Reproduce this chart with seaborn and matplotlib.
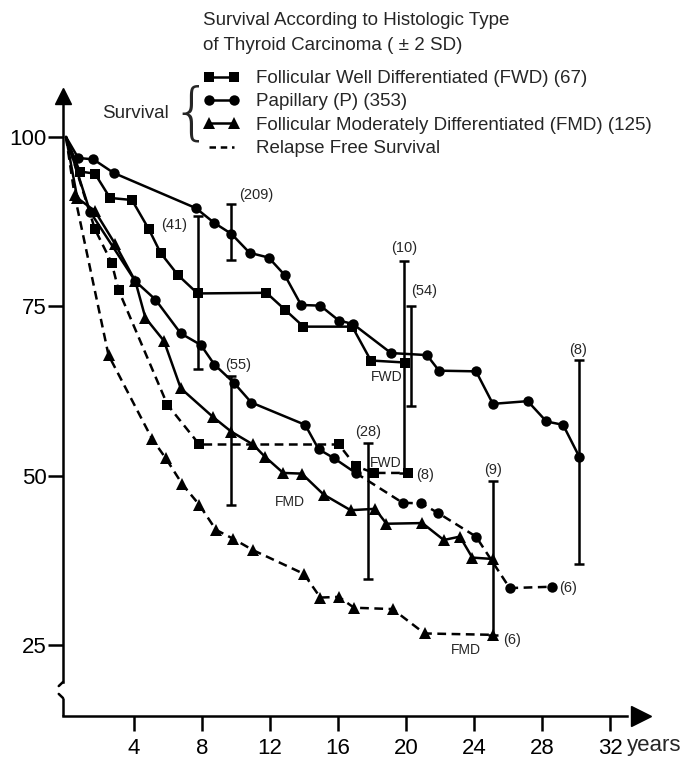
import matplotlib
matplotlib.use("Agg")
import matplotlib.pyplot as plt
import seaborn as sns
from matplotlib.lines import Line2D

# overall survival, years vs % alive
fwd_t = [0, 0.81, 1.70, 2.59, 3.88, 4.87, 5.56, 6.59, 7.74, 11.79, 12.88, 13.97, 16.84, 17.93, 19.96]
fwd_s = [100, 94.9, 94.6, 91.0, 90.7, 86.4, 82.9, 79.6, 76.9, 77.0, 74.5, 72.0, 72.0, 67.0, 66.7]

pap_t = [0, 0.72, 1.61, 2.80, 7.64, 8.73, 9.73, 10.8, 11.92, 12.87, 13.83, 14.96, 16.05, 16.88,
         19.12, 21.23, 21.94, 24.12, 25.11, 27.16, 28.26, 29.24, 30.19]
pap_s = [100, 96.9, 96.7, 94.7, 89.5, 87.3, 85.7, 82.9, 82.2, 79.6, 75.2, 75.1, 72.9, 72.4,
         68.1, 67.8, 65.5, 65.4, 60.6, 61.0, 58.0, 57.5, 52.8]

fmd_t = [0, 0.66, 1.69, 2.89, 4.08, 4.67, 5.76, 6.75, 8.63, 9.72, 11.0, 11.7, 12.78, 13.87,
         15.16, 16.74, 18.18, 18.85, 20.96, 22.22, 23.17, 23.9, 25.09]
fmd_s = [100, 91.0, 89.1, 84.2, 78.7, 73.3, 69.9, 62.9, 58.7, 56.5, 54.6, 52.8, 50.4, 50.3,
         47.2, 44.9, 45.1, 42.9, 43.0, 40.5, 41.0, 37.9, 37.7]

# relapse free survival
fwd_rfs_t = [0, 1.70, 2.69, 3.09, 5.96, 7.84, 16.05, 17.04, 18.12, 20.1]
fwd_rfs_s = [100, 86.4, 81.4, 77.4, 60.5, 54.6, 54.6, 51.4, 50.4, 50.4]

pap_rfs_t = [0, 1.41, 4.08, 5.26, 6.75, 7.93, 8.73, 9.88, 10.9, 14.07, 14.86, 15.75, 17.04,
             19.8, 20.9, 21.88, 24.12, 26.1, 28.6]
pap_rfs_s = [100, 89.0, 78.7, 76.0, 71.0, 69.3, 66.4, 63.7, 60.8, 57.5, 53.9, 52.6, 50.4,
             46.0, 45.9, 44.5, 41.0, 33.4, 33.6]
pap_rfs_solid_until = 17.04   # drawn solid up to here, dashed after

fmd_rfs_t = [0, 0.5, 2.5, 5.07, 5.86, 6.85, 7.84, 8.82, 9.82, 11.0, 13.99, 14.96, 16.05, 16.94,
             19.21, 21.09, 25.09]
fmd_rfs_s = [100, 91.5, 67.8, 55.4, 52.6, 48.7, 45.7, 42.0, 40.7, 39.0, 35.5, 32.0, 32.1, 30.5,
             30.3, 26.7, 26.5]

# +/- 2 SD bars with number at risk
pap_bar_t = [9.73, 20.3, 30.19]
pap_bar_s = [86.0, 67.7, 52.0]
pap_bar_sd = [4.1, 7.4, 15.1]
fwd_bar_t = [7.74, 19.9]
fwd_bar_s = [77.1, 66.05]
fwd_bar_sd = [11.3, 15.6]
fmd_bar_t = [9.72, 17.79, 25.09]
fmd_bar_s = [55.2, 44.8, 37.85]
fmd_bar_sd = [9.5, 10.0, 11.35]

x_ticks = [4, 8, 12, 16, 20, 24, 28, 32]
y_ticks = [25, 50, 75, 100]

W, H = 683, 758
sns.set_style("white")
plt.rcParams['font.family'] = ['Liberation Sans', 'DejaVu Sans']

fig = plt.figure(figsize=(W / 100, H / 100), dpi=100)
ax = fig.add_axes([63 / W, 1 - 716 / H, (660 - 63) / W, (716 - 80) / H])
x0 = -3 / 17
ax.set_xlim(x0, 594 / 17)
ax.set_ylim(100 - (716 - 137) / 6.773, 100 + 57 / 6.773)

lw = 1.8
dash = (0, (3.5, 2.2))
ms_sq, ms_ci, ms_tr = 7.5, 7.5, 9


def curve(t, s, marker, ms, ls='-'):
    sns.lineplot(x=t, y=s, ax=ax, color='black', marker=marker, markersize=ms,
                 markeredgewidth=0, linewidth=lw, linestyle=ls, estimator=None,
                 sort=False, markevery=list(range(1, len(t))), clip_on=False)


curve(fwd_t, fwd_s, 's', ms_sq)
curve(pap_t, pap_s, 'o', ms_ci)
curve(fmd_t, fmd_s, '^', ms_tr)
curve(fwd_rfs_t, fwd_rfs_s, 's', ms_sq, dash)
curve(fmd_rfs_t, fmd_rfs_s, '^', ms_tr, dash)

k = pap_rfs_t.index(pap_rfs_solid_until)
curve(pap_rfs_t[:k + 1], pap_rfs_s[:k + 1], 'o', ms_ci)
sns.lineplot(x=pap_rfs_t[k:], y=pap_rfs_s[k:], ax=ax, color='black', marker='o',
             markersize=ms_ci, markeredgewidth=0, linewidth=lw, linestyle=dash,
             estimator=None, sort=False, markevery=list(range(1, len(pap_rfs_t) - k)))

for bt, bs, bsd in [(pap_bar_t, pap_bar_s, pap_bar_sd), (fwd_bar_t, fwd_bar_s, fwd_bar_sd),
                    (fmd_bar_t, fmd_bar_s, fmd_bar_sd)]:
    ax.errorbar(bt, bs, yerr=bsd, fmt='none', ecolor='black', elinewidth=lw,
                capsize=3.5, capthick=lw)

# numbers at risk and curve tags
small = dict(fontsize=10.5, ha='center', va='center')
ax.text(11.18, 91.4, "(209)", **small)
ax.text(6.35, 87.0, "(41)", **small)
ax.text(10.14, 66.3, "(55)", **small)
ax.text(19.88, 83.6, "(10)", **small)
ax.text(21.06, 77.2, "(54)", **small)
ax.text(30.14, 68.6, "(8)", **small)
ax.text(17.78, 56.5, "(28)", **small)
ax.text(25.1, 50.8, "(9)", **small)
ax.text(21.12, 50.1, "(8)", **small)
ax.text(29.55, 33.4, "(6)", **small)
ax.text(26.22, 25.7, "(6)", **small)
tag = dict(fontsize=10, ha='center', va='center', family=['Liberation Sans Narrow', 'Liberation Sans'])
ax.text(18.86, 64.6, "FWD", **tag)
ax.text(18.82, 51.9, "FWD", **tag)
ax.text(13.18, 46.1, "FMD", **tag)
ax.text(23.5, 24.3, "FMD", **tag)

# axes with arrows and a broken y axis
for side in ['top', 'right']:
    ax.spines[side].set_visible(False)
ybreak_hi = 100 - (682 - 137) / 6.773
ybreak_lo = 100 - (698 - 137) / 6.773
ax.spines['left'].set_bounds(ybreak_hi, 105.0)
ax.spines['bottom'].set_bounds(x0, 33.0)
for side in ['left', 'bottom']:
    ax.spines[side].set_linewidth(lw)
    ax.spines[side].set_color('black')
ylo = ax.get_ylim()[0]
ax.plot([x0, x0], [ylo, ybreak_lo], color='black', lw=lw, clip_on=False, solid_capstyle='butt')
ax.plot([x0, x0 - 0.25], [ybreak_hi, ybreak_hi - 0.6], color='black', lw=lw, clip_on=False)
ax.plot([x0, x0 - 0.25], [ybreak_lo, ybreak_lo + 0.6], color='black', lw=lw, clip_on=False)
ax.plot([x0], [106.0], marker='^', ms=11, color='black', clip_on=False)
ax.plot([33.8], [ylo], marker='>', ms=15, color='black', clip_on=False)

ax.set_xticks(x_ticks)
ax.set_xticklabels([str(v) for v in x_ticks])
ax.set_yticks(y_ticks)
ax.set_yticklabels([str(v) for v in y_ticks])
ax.tick_params(axis='both', direction='out', length=11, width=lw, labelsize=16,
               color='black', labelcolor='black', bottom=True, left=True)
ax.tick_params(axis='y', pad=1)
ax.tick_params(axis='x', pad=5)
ax.set_xlabel("")
ax.set_ylabel("")
fig.text(627 / W, 1 - 746 / H, "years", fontsize=16, ha='left', va='center')

# legend block
fig.text(203 / W, 1 - 20.7 / H, "Survival According to Histologic Type", fontsize=13.5, va='center')
fig.text(203 / W, 1 - 45 / H, "of Thyroid Carcinoma ( \u00b1 2 SD)", fontsize=13.5, va='center')
handles = [
    Line2D([], [], color='black', lw=lw, marker='s', ms=ms_sq, mew=0),
    Line2D([], [], color='black', lw=lw, marker='o', ms=ms_ci, mew=0),
    Line2D([], [], color='black', lw=lw, marker='^', ms=ms_tr, mew=0),
    Line2D([], [], color='black', lw=lw, linestyle=(0, (2.6, 1.9))),
]
labels = ["Follicular Well Differentiated (FWD) (67)", "Papillary (P) (353)",
          "Follicular Moderately Differentiated (FMD) (125)", "Relapse Free Survival"]
fig.legend(handles, labels, loc='upper left', bbox_to_anchor=(203 / W, 1 - 70 / H),
           frameon=False, fontsize=13.5, handlelength=1.95, handletextpad=0.9,
           labelspacing=0.33, borderpad=0, borderaxespad=0, numpoints=2)
fig.text(169 / W, 1 - 113 / H, "Survival", fontsize=13.5, ha='right', va='center')
fig.text(191 / W, 1 - 115 / H, "{", fontsize=45, ha='center', va='center',
         family=['DejaVu Sans'], fontweight='light')

fig.savefig("out.png", dpi=100, facecolor='white')
